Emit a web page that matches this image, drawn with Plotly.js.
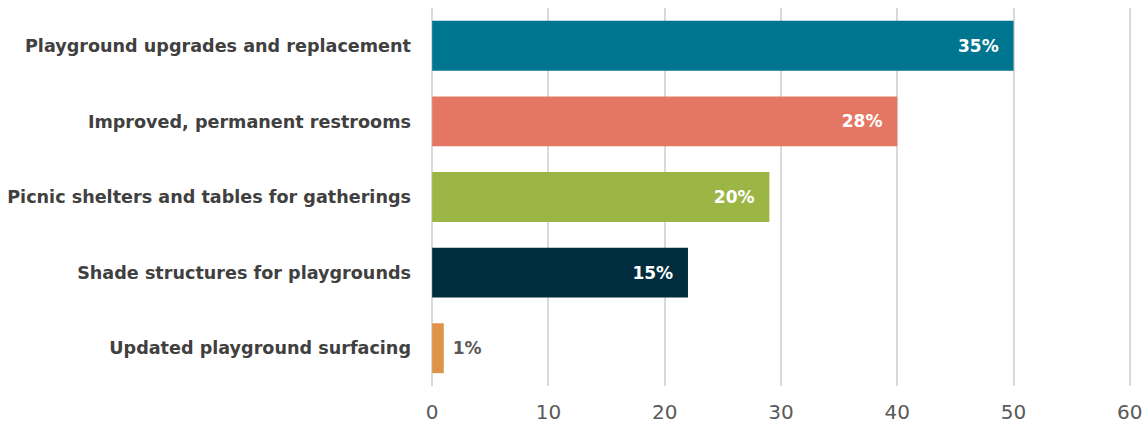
<!DOCTYPE html>
<html>
<head>
<meta charset="utf-8">
<script src="https://cdn.plot.ly/plotly-3.0.1.min.js"></script>
<style>html,body{margin:0;padding:0;background:#fff;}#chart{width:1148px;height:424px;}</style>
</head>
<body>
<div id="chart"></div>
<script>
const categories = [
  "Playground upgrades and replacement",
  "Improved, permanent restrooms",
  "Picnic shelters and tables for gatherings",
  "Shade structures for playgrounds",
  "Updated playground surfacing"
];
const values = [50, 40, 29, 22, 1];
const labels = ["35%", "28%", "20%", "15%", "1%"];
const colors = ["#00758F", "#E47763", "#9BB645", "#002D3D", "#DD9449"];
const xTicks = [0, 10, 20, 30, 40, 50, 60];

const NB = "\u00A0";
const inside = values.map(v => v >= 5);
const texts = labels.map((t, i) => inside[i] ? t + NB + NB : NB + t);

const trace = {
  type: "bar",
  orientation: "h",
  y: categories,
  x: values,
  text: texts,
  textposition: inside.map(b => b ? "inside" : "outside"),
  insidetextanchor: "end",
  textangle: 0,
  insidetextfont: {family: "DejaVu Sans", size: 17, color: "#ffffff", weight: "bold"},
  outsidetextfont: {family: "DejaVu Sans", size: 17, color: "#595959", weight: "bold"},
  marker: {color: colors},
  cliponaxis: false,
  hoverinfo: "skip"
};

const layout = {
  width: 1148,
  height: 424,
  margin: {l: 430.8, r: 16.8, t: 8, b: 38},
  paper_bgcolor: "#ffffff",
  plot_bgcolor: "#ffffff",
  showlegend: false,
  bargap: 0.34,
  font: {family: "DejaVu Sans", color: "#595959"},
  xaxis: {
    range: [-0.1, 60.1],
    tickvals: xTicks,
    ticktext: xTicks.map(String),
    showgrid: true,
    gridcolor: "#d9d9d9",
    gridwidth: 2,
    zeroline: false,
    showline: false,
    ticks: "",
    ticklabelstandoff: 12,
    tickfont: {family: "DejaVu Sans", size: 20, color: "#595959"},
    fixedrange: true
  },
  yaxis: {
    autorange: "reversed",
    automargin: false,
    showgrid: false,
    zeroline: false,
    showline: false,
    ticks: "",
    ticklabelstandoff: 19,
    tickfont: {family: "DejaVu Sans", size: 17.6, color: "#404040", weight: "bold"},
    fixedrange: true
  }
};

Plotly.newPlot("chart", [trace], layout, {displayModeBar: false, staticPlot: true});
</script>
</body>
</html>
